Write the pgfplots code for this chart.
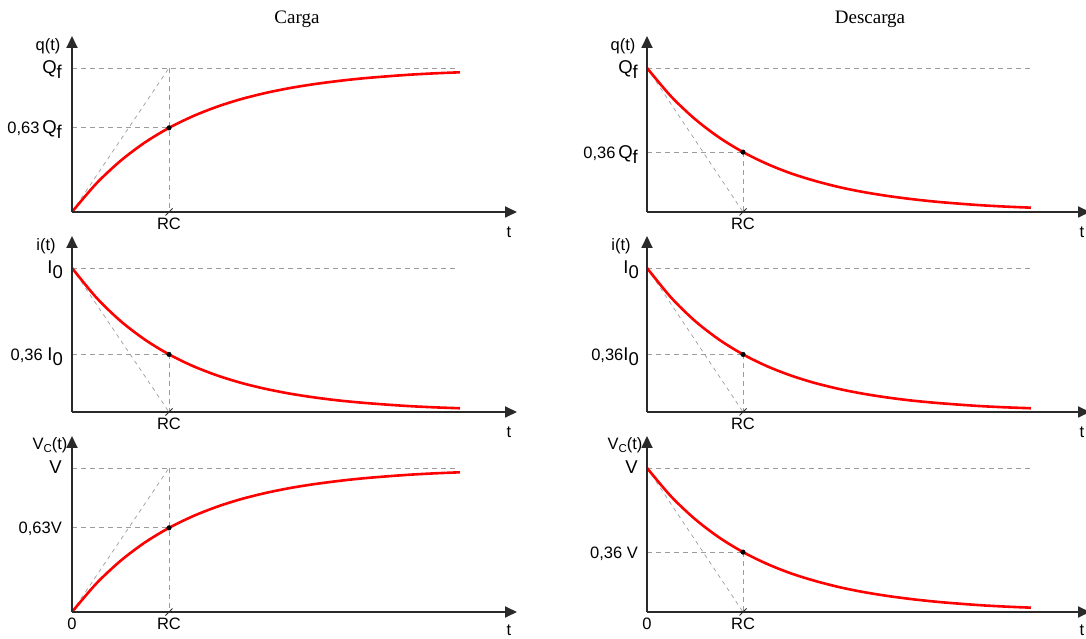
\documentclass[border=0pt]{standalone}
\usepackage{pgfplots}
\usepackage{pgfplotstable}
\pgfplotsset{compat=1.18}
\usetikzlibrary{arrows.meta}
\usepackage{fontspec}
\setmainfont{Liberation Sans}
\newfontfamily\seriffont{Liberation Serif}

\definecolor{axc}{HTML}{2A2A2A}
\definecolor{dsh}{HTML}{9C9C9C}

\newcommand{\LabF}{\fontsize{16.5}{18}\selectfont}
\newcommand{\BigF}{\fontsize{18.5}{20}\selectfont}
\newcommand{\Qf}{{\BigF Q\raisebox{-5pt}{f}}}
\newcommand{\Io}{{\BigF I\raisebox{-5pt}{0}}}

\pgfplotstableread{
t v
0 0
0.25 0.197
0.5 0.355
0.75 0.482
1 0.584
1.25 0.666
1.5 0.732
1.75 0.785
2 0.827
2.25 0.861
2.5 0.888
2.75 0.910
3 0.928
3.25 0.942
3.5 0.954
3.75 0.963
4 0.970
}\charge

\pgfplotstableread{
t v
0 1
0.25 0.803
0.5 0.645
0.75 0.518
1 0.416
1.25 0.334
1.5 0.268
1.75 0.216
2 0.173
2.25 0.139
2.5 0.112
2.75 0.090
3 0.072
3.25 0.058
3.5 0.046
3.75 0.037
4 0.030
}\disA

\pgfplotstableread{
t v
0 1
0.25 0.795
0.5 0.632
0.75 0.503
1 0.400
1.25 0.318
1.5 0.253
1.75 0.201
2 0.160
2.25 0.127
2.5 0.101
2.75 0.080
3 0.064
3.25 0.051
3.5 0.040
3.75 0.032
4 0.026
}\disB

\tikzset{
  axl/.style={axc, line width=1.8pt, -{Triangle[length=12pt,width=11pt]}},
  dl/.style={dsh, line width=0.8pt, dash pattern=on 5pt off 4pt},
  tl/.style={dsh, line width=0.7pt, dash pattern=on 4pt off 4pt},
  crv/.style={red, line width=2.6pt, smooth, no markers},
  lab/.style={font=\LabF, inner sep=0pt},
  rctick/.style={axc, line width=0.9pt},
}

\pgfplotsset{
  panel/.style={scale only axis, axis lines=none, clip=false,
    xmin=0, ymin=0, ymax=1.222, height=176pt},
  leftp/.style={panel, width=445pt, xmax=4.588},
  rightp/.style={panel, width=443pt, xmax=4.615},
}

\begin{document}
\begin{tikzpicture}
\useasboundingbox (0pt,0pt) rectangle (1086pt,639pt);

\node[font=\seriffont\fontsize{19}{21}\selectfont, anchor=base] at (297pt,615pt) {Carga};
\node[font=\seriffont\fontsize{19}{21}\selectfont, anchor=base] at (870pt,615pt) {Descarga};

% ---------------- Left row 1: q(t) charge
\begin{axis}[leftp, at={(72pt,427pt)}, anchor=south west]
\addplot[dl] coordinates {(0,1) (3.96,1)};
\addplot[dl] coordinates {(0,0.584) (1,0.584)};
\addplot[dl] coordinates {(1,1) (1,0)};
\addplot[tl] coordinates {(0,0) (1,1)};
\addplot[crv] table[x=t,y=v]{\charge};
\draw[axl] (axis cs:0,0) -- (axis cs:4.588,0);
\draw[axl] (axis cs:0,0) -- (axis cs:0,1.222);
\draw[rctick] ([xshift=-3.5pt,yshift=-3.5pt]axis cs:1,0) -- ([xshift=3.5pt,yshift=3.5pt]axis cs:1,0);
\addplot[only marks, mark=*, mark size=2.3pt, black] coordinates {(1,0.584)};
\node[lab, anchor=north] at ([xshift=-24pt,yshift=-2pt]axis cs:0,1.222) {q(t)};
\node[lab, anchor=base east] at ([xshift=-10pt,yshift=-6pt]axis cs:0,1) {\Qf};
\node[lab, anchor=base east] at ([xshift=-10pt,yshift=-6pt]axis cs:0,0.584) {0,63\,\Qf};
\node[lab, anchor=north] at ([yshift=-6pt]axis cs:1,0) {RC};
\node[lab, anchor=north] at ([xshift=-8pt,yshift=-15pt]axis cs:4.588,0) {t};
\end{axis}

% ---------------- Left row 2: i(t)
\begin{axis}[leftp, at={(72pt,227pt)}, anchor=south west]
\addplot[dl] coordinates {(0,1) (3.96,1)};
\addplot[dl] coordinates {(0,0.400) (1,0.400)};
\addplot[dl] coordinates {(1,0.400) (1,0)};
\addplot[tl] coordinates {(0,1) (1,0)};
\addplot[crv] table[x=t,y=v]{\disB};
\draw[axl] (axis cs:0,0) -- (axis cs:4.588,0);
\draw[axl] (axis cs:0,0) -- (axis cs:0,1.222);
\draw[rctick] ([xshift=-3.5pt,yshift=-3.5pt]axis cs:1,0) -- ([xshift=3.5pt,yshift=3.5pt]axis cs:1,0);
\addplot[only marks, mark=*, mark size=2.3pt, black] coordinates {(1,0.400)};
\node[lab, anchor=north] at ([xshift=-26pt,yshift=-2pt]axis cs:0,1.222) {i(t)};
\node[lab, anchor=base east] at ([xshift=-9pt,yshift=-6pt]axis cs:0,1) {\Io};
\node[lab, anchor=base east] at ([xshift=-9pt,yshift=-6pt]axis cs:0,0.400) {0,36 \Io};
\node[lab, anchor=north] at ([yshift=-6pt]axis cs:1,0) {RC};
\node[lab, anchor=north] at ([xshift=-8pt,yshift=-15pt]axis cs:4.588,0) {t};
\end{axis}

% ---------------- Left row 3: Vc(t) charge
\begin{axis}[leftp, at={(72pt,27pt)}, anchor=south west]
\addplot[dl] coordinates {(0,1) (3.96,1)};
\addplot[dl] coordinates {(0,0.584) (1,0.584)};
\addplot[dl] coordinates {(1,1) (1,0)};
\addplot[tl] coordinates {(0,0) (1,1)};
\addplot[crv] table[x=t,y=v]{\charge};
\draw[axl] (axis cs:0,0) -- (axis cs:4.588,0);
\draw[axl] (axis cs:0,0) -- (axis cs:0,1.222);
\draw[rctick] ([xshift=-3.5pt,yshift=-3.5pt]axis cs:1,0) -- ([xshift=3.5pt,yshift=3.5pt]axis cs:1,0);
\addplot[only marks, mark=*, mark size=2.3pt, black] coordinates {(1,0.584)};
\node[lab, anchor=north] at ([xshift=-22pt,yshift=-1pt]axis cs:0,1.222) {V\raisebox{-3pt}{\fontsize{11.5}{12}\selectfont C}(t)};
\node[lab, anchor=base east] at ([xshift=-10pt,yshift=-6pt]axis cs:0,1) {\BigF V};
\node[lab, anchor=base east] at ([xshift=-10pt,yshift=-6pt]axis cs:0,0.584) {0,63V};
\node[lab, anchor=north] at ([yshift=-6pt]axis cs:1,0) {RC};
\node[lab, anchor=north] at ([yshift=-6pt]axis cs:0,0) {0};
\node[lab, anchor=north] at ([xshift=-8pt,yshift=-13pt]axis cs:4.588,0) {t};
\end{axis}

% ---------------- Right row 1: q(t) discharge
\begin{axis}[rightp, at={(647pt,427pt)}, anchor=south west]
\addplot[dl] coordinates {(0,1) (3.99,1)};
\addplot[dl] coordinates {(0,0.416) (1,0.416)};
\addplot[dl] coordinates {(1,0.416) (1,0)};
\addplot[tl] coordinates {(0,1) (1,0)};
\addplot[crv] table[x=t,y=v]{\disA};
\draw[axl] (axis cs:0,0) -- (axis cs:4.615,0);
\draw[axl] (axis cs:0,0) -- (axis cs:0,1.222);
\draw[rctick] ([xshift=-3.5pt,yshift=-3.5pt]axis cs:1,0) -- ([xshift=3.5pt,yshift=3.5pt]axis cs:1,0);
\addplot[only marks, mark=*, mark size=2.3pt, black] coordinates {(1,0.416)};
\node[lab, anchor=north] at ([xshift=-24pt,yshift=-2pt]axis cs:0,1.222) {q(t)};
\node[lab, anchor=base east] at ([xshift=-9pt,yshift=-6pt]axis cs:0,1) {\Qf};
\node[lab, anchor=base east] at ([xshift=-9pt,yshift=-6pt]axis cs:0,0.416) {0,36\,\Qf};
\node[lab, anchor=north] at ([yshift=-6pt]axis cs:1,0) {RC};
\node[lab, anchor=north] at ([xshift=-8pt,yshift=-15pt]axis cs:4.615,0) {t};
\end{axis}

% ---------------- Right row 2: i(t)
\begin{axis}[rightp, at={(647pt,227pt)}, anchor=south west]
\addplot[dl] coordinates {(0,1) (3.99,1)};
\addplot[dl] coordinates {(0,0.400) (1,0.400)};
\addplot[dl] coordinates {(1,0.400) (1,0)};
\addplot[tl] coordinates {(0,1) (1,0)};
\addplot[crv] table[x=t,y=v]{\disB};
\draw[axl] (axis cs:0,0) -- (axis cs:4.615,0);
\draw[axl] (axis cs:0,0) -- (axis cs:0,1.222);
\draw[rctick] ([xshift=-3.5pt,yshift=-3.5pt]axis cs:1,0) -- ([xshift=3.5pt,yshift=3.5pt]axis cs:1,0);
\addplot[only marks, mark=*, mark size=2.3pt, black] coordinates {(1,0.400)};
\node[lab, anchor=north] at ([xshift=-26pt,yshift=-2pt]axis cs:0,1.222) {i(t)};
\node[lab, anchor=base east] at ([xshift=-8pt,yshift=-6pt]axis cs:0,1) {\Io};
\node[lab, anchor=base east] at ([xshift=-8pt,yshift=-6pt]axis cs:0,0.400) {0,36\Io};
\node[lab, anchor=north] at ([yshift=-6pt]axis cs:1,0) {RC};
\node[lab, anchor=north] at ([xshift=-8pt,yshift=-15pt]axis cs:4.615,0) {t};
\end{axis}

% ---------------- Right row 3: Vc(t) discharge
\begin{axis}[rightp, at={(647pt,27pt)}, anchor=south west]
\addplot[dl] coordinates {(0,1) (3.99,1)};
\addplot[dl] coordinates {(0,0.416) (1,0.416)};
\addplot[dl] coordinates {(1,0.416) (1,0)};
\addplot[tl] coordinates {(0,1) (1,0)};
\addplot[crv] table[x=t,y=v]{\disA};
\draw[axl] (axis cs:0,0) -- (axis cs:4.615,0);
\draw[axl] (axis cs:0,0) -- (axis cs:0,1.222);
\draw[rctick] ([xshift=-3.5pt,yshift=-3.5pt]axis cs:1,0) -- ([xshift=3.5pt,yshift=3.5pt]axis cs:1,0);
\addplot[only marks, mark=*, mark size=2.3pt, black] coordinates {(1,0.416)};
\node[lab, anchor=north] at ([xshift=-22pt,yshift=-1pt]axis cs:0,1.222) {V\raisebox{-3pt}{\fontsize{11.5}{12}\selectfont C}(t)};
\node[lab, anchor=base east] at ([xshift=-9pt,yshift=-6pt]axis cs:0,1) {\BigF V};
\node[lab, anchor=base east] at ([xshift=-9pt,yshift=-6pt]axis cs:0,0.416) {0,36 V};
\node[lab, anchor=north] at ([yshift=-6pt]axis cs:1,0) {RC};
\node[lab, anchor=north] at ([yshift=-6pt]axis cs:0,0) {0};
\node[lab, anchor=north] at ([xshift=-8pt,yshift=-13pt]axis cs:4.615,0) {t};
\end{axis}
\end{tikzpicture}
\end{document}
